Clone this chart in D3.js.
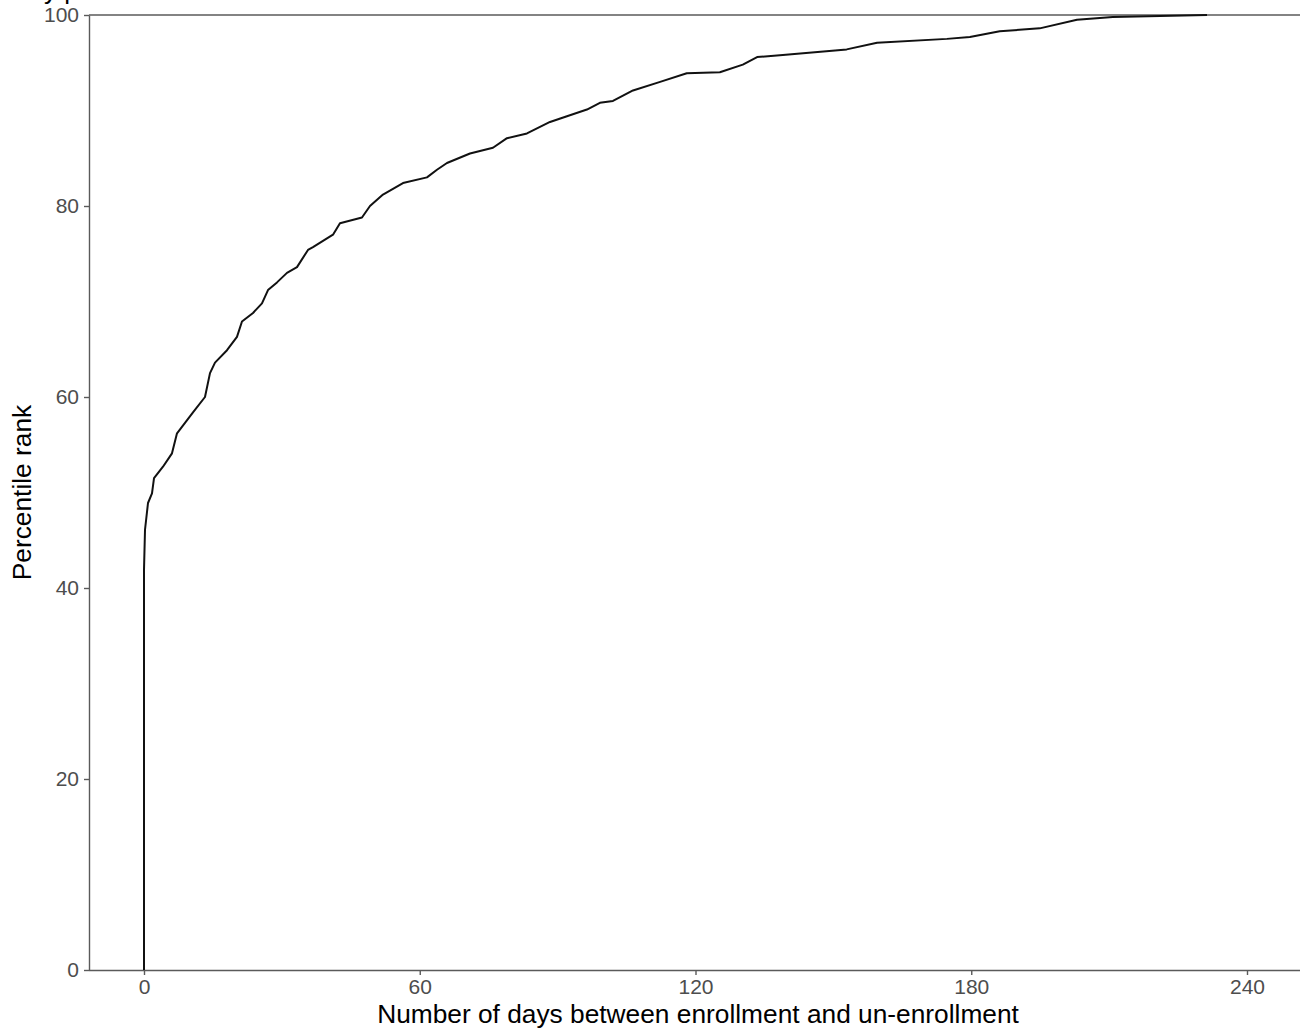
<!DOCTYPE html>
<html>
<head>
<meta charset="utf-8">
<script src="https://cdn.jsdelivr.net/npm/d3@7"></script>
<style>
  html, body { margin: 0; padding: 0; background: #fff; }
  svg { display: block; font-family: "Liberation Sans", Arial, sans-serif; }
</style>
</head>
<body>
<svg id="chart" width="1300" height="1029"></svg>
<script>
// Days between enrollment and un-enrollment, and the percentile rank reached
const days = [0, 0, 0.22, 0.87, 1.74, 2.18, 4.13, 6.09, 7.18, 8.92, 10.66, 13.27, 14.36, 15.45,
  18.06, 20.23, 21.32, 23.72, 25.67, 26.98, 28.94, 31.11, 33.29, 35.68, 36.77, 41.12, 42.64,
  47.43, 49.17, 52.0, 56.35, 61.57, 63.75, 65.92, 70.93, 75.93, 78.98, 83.33, 88.34, 92.03,
  96.38, 99.2, 102.04, 106.4, 112.3, 118.1, 125.3, 130.3, 133.4, 139.0, 152.9, 159.5, 174.7,
  179.7, 186.2, 194.9, 203.0, 210.8, 231.3];
const percentile = [0, 41.9, 46.1, 48.9, 49.9, 51.5, 52.7, 54.1, 56.2, 57.3, 58.4, 60.0, 62.5, 63.6,
  64.9, 66.3, 67.9, 68.8, 69.8, 71.2, 72.0, 73.0, 73.6, 75.4, 75.7, 77.0, 78.2,
  78.8, 80.0, 81.2, 82.4, 83.0, 83.8, 84.5, 85.5, 86.1, 87.1, 87.6, 88.8, 89.4,
  90.1, 90.8, 91.0, 92.1, 93.0, 93.9, 94.0, 94.8, 95.6, 95.8, 96.4, 97.1, 97.5,
  97.7, 98.3, 98.6, 99.5, 99.8, 100];
const xTicks = [0, 60, 120, 180, 240];
const yTicks = [0, 20, 40, 60, 80, 100];
const xTitle = "Number of days between enrollment and un-enrollment";
const yTitle = "Percentile rank";

const svg = d3.select("#chart");
const panel = { left: 89, right: 1300, top: 15, bottom: 970 };

const x = d3.scaleLinear().domain([0, 240]).range([144, 1247]);
const y = d3.scaleLinear().domain([0, 100]).range([panel.bottom, panel.top]);

const axisColor = "#5a5a5a";
const labelColor = "#4d4d4d";

// Partial title text at the very top edge
svg.append("text")
  .attr("x", 44).attr("y", -1.5)
  .attr("font-size", 26).attr("fill", "#000")
  .text("y p");

// Reference line at 100
svg.append("line")
  .attr("x1", panel.left).attr("x2", panel.right)
  .attr("y1", y(100)).attr("y2", y(100))
  .attr("stroke", axisColor).attr("stroke-width", 1.4);

// Y axis
const gy = svg.append("g")
  .attr("transform", `translate(${panel.left},0)`)
  .call(d3.axisLeft(y).tickValues(yTicks).tickSize(5).tickPadding(5).tickSizeOuter(0));
// X axis
const gx = svg.append("g")
  .attr("transform", `translate(0,${panel.bottom})`)
  .call(d3.axisBottom(x).tickValues(xTicks).tickSize(5).tickPadding(4.5).tickSizeOuter(0));

gx.select(".domain").attr("d", `M${panel.left},0.5H${panel.right}`);
[gx, gy].forEach(g => {
  g.select(".domain").attr("stroke", axisColor).attr("stroke-width", 1.4);
  g.selectAll(".tick line").attr("stroke", axisColor).attr("stroke-width", 1.4);
  g.selectAll(".tick text")
    .attr("fill", labelColor)
    .attr("font-size", 21)
    .attr("font-family", "Liberation Sans, Arial, sans-serif");
});

// Cumulative distribution curve
const line = d3.line()
  .x((d, i) => x(days[i]))
  .y((d, i) => y(percentile[i]));
svg.append("path")
  .datum(days)
  .attr("d", line)
  .attr("fill", "none")
  .attr("stroke", "#111")
  .attr("stroke-width", 2)
  .attr("stroke-linejoin", "round");

// Axis titles
svg.append("text")
  .attr("x", 698).attr("y", 1023.3)
  .attr("text-anchor", "middle")
  .attr("font-size", 26.3).attr("fill", "#000")
  .text(xTitle);
svg.append("text")
  .attr("transform", `translate(31,${y(50)}) rotate(-90)`)
  .attr("text-anchor", "middle")
  .attr("font-size", 26.3).attr("fill", "#000")
  .text(yTitle);
</script>
</body>
</html>
